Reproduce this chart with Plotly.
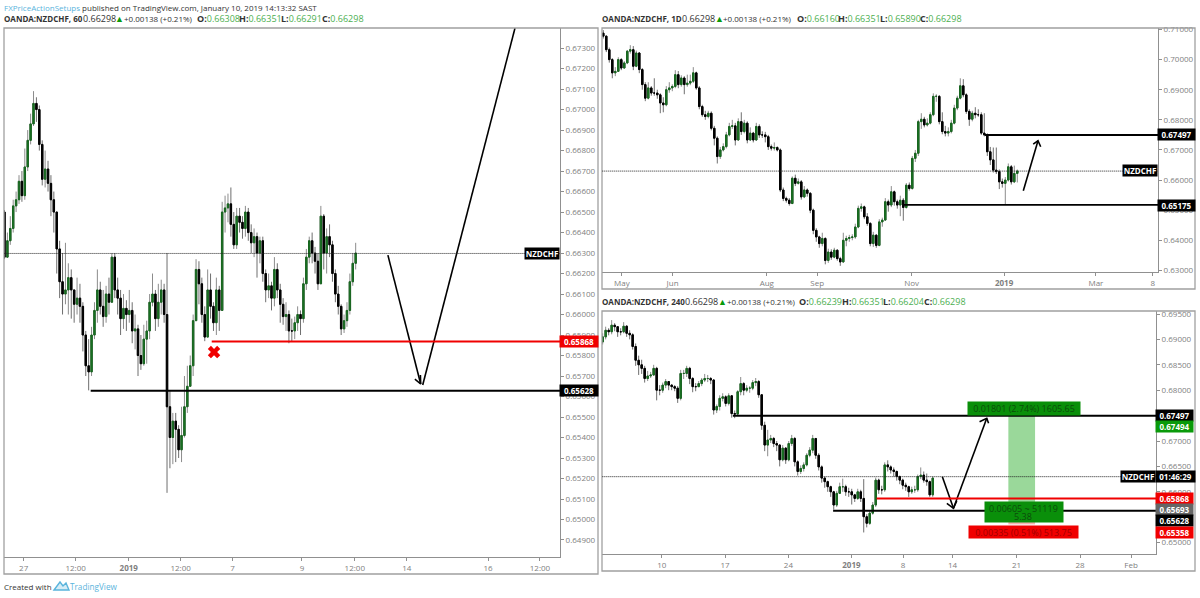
import plotly.graph_objects as go

W, H = 1200, 598

# 60 minute panel, prices
h1_first_open = 0.6650
h1_close = [.6628,.6636,.6642,.6653,.6656,.6665,.6658,.6672,.6685,.6693,.6703,.6700,.6683,.6666,.6671,.6664,.6656,.6650,.6632,.6616,
            .6610,.6612,.6618,.6612,.6605,.6608,.6604,.6590,.6575,.6572,.6590,.6602,.6612,.6604,.6599,.6610,.6606,.6628,.6612,.6608,
            .6598,.6603,.6600,.6602,.6592,.6593,.6580,.6576,.6588,.6592,.6606,.6610,.6598,.6606,.6612,.6600,.6555,.6540,.6548,.6544,
            .6534,.6541,.6555,.6565,.6575,.6597,.6622,.6615,.6600,.6589,.6612,.6604,.6596,.6612,.6602,.6650,.6652,.6654,.6644,.6634,
            .6648,.6645,.6642,.6650,.6640,.6635,.6638,.6630,.6636,.6620,.6612,.6614,.6608,.6622,.6612,.6605,.6599,.6600,.6592,.6592,
            .6596,.6600,.6598,.6615,.6628,.6636,.6630,.6626,.6615,.6648,.6630,.6638,.6634,.6620,.6610,.6604,.6593,.6597,.6602,.6616,
            .6625,.6630]
h1_high = [.6651,.6640,.6648,.6656,.6660,.6668,.6670,.6681,.6690,.6698,.6709,.6706,.6702,.6685,.6680,.6675,.6668,.6660,.6650,.6636,
           .6630,.6635,.6625,.6622,.6612,.6618,.6615,.6606,.6592,.6588,.6594,.6606,.6622,.6616,.6612,.6614,.6618,.6630,.6630,.6618,
           .6612,.6610,.6607,.6612,.6606,.6600,.6595,.6590,.6595,.6597,.6610,.6620,.6612,.6615,.6617,.6615,.6630,.6563,.6552,.6552,
           .6546,.6555,.6570,.6575,.6580,.6600,.6627,.6626,.6618,.6604,.6622,.6620,.6606,.6618,.6614,.6655,.6658,.6659,.6662,.6650,
           .6652,.6652,.6648,.6653,.6652,.6644,.6642,.6640,.6638,.6638,.6622,.6620,.6616,.6628,.6625,.6615,.6608,.6606,.6602,.6598,
           .6599,.6604,.6602,.6618,.6632,.6638,.6640,.6633,.6630,.6653,.6649,.6642,.6644,.6636,.6622,.6614,.6605,.6600,.6606,.6620,
           .6630,.6635]
h1_low = [.6627,.6628,.6634,.6640,.6650,.6654,.6655,.6656,.6670,.6683,.6692,.6694,.6680,.6663,.6662,.6660,.6648,.6640,.6620,.6608,
          .6600,.6605,.6600,.6598,.6596,.6600,.6596,.6582,.6570,.6563,.6570,.6588,.6596,.6600,.6594,.6596,.6600,.6612,.6608,.6600,
          .6590,.6593,.6592,.6596,.6586,.6583,.6570,.6573,.6575,.6576,.6588,.6604,.6592,.6594,.6600,.6596,.6513,.6525,.6527,.6528,
          .6530,.6528,.6540,.6552,.6570,.6570,.6605,.6605,.6596,.6587,.6589,.6598,.6592,.6590,.6592,.6603,.6640,.6645,.6638,.6632,
          .6632,.6640,.6637,.6638,.6636,.6630,.6628,.6618,.6625,.6616,.6606,.6608,.6602,.6604,.6608,.6596,.6595,.6592,.6586,.6587,
          .6588,.6592,.6590,.6596,.6612,.6625,.6625,.6620,.6612,.6615,.6622,.6620,.6628,.6616,.6606,.6600,.6590,.6591,.6594,.6600,
          .6614,.6622]
h1_ticks = [6.6, 24.5, 42.8, 60.7, 78.6, 102.5, 120.7, 138.6, 166.6, 184.5]
h1_ticktext = ["27", "12:00", "<b>2019</b>", "12:00", "7", "9", "12:00", "14", "16", "12:00"]
h1_yticks = [.673,.672,.671,.670,.669,.668,.667,.666,.665,.664,.663,.662,.661,.660,.659,.658,.657,.656,.655,.654,.653,.652,.651,.650,.649]

# daily panel
d1_first_open = 0.7088
d1_close = [.7078,.7033,.7000,.6956,.6961,.7000,.6972,.6989,.7028,.7033,.6978,.7022,.6967,.6917,.6872,.6906,.6889,.6889,.6883,.6856,
            .6850,.6900,.6906,.6911,.6950,.6917,.6939,.6917,.6922,.6928,.6956,.6906,.6844,.6817,.6811,.6822,.6772,.6739,.6678,.6700,
            .6711,.6750,.6778,.6780,.6733,.6794,.6761,.6789,.6733,.6756,.6733,.6778,.6750,.6750,.6744,.6711,.6706,.6708,.6700,.6567,
            .6539,.6533,.6522,.6606,.6589,.6594,.6544,.6567,.6556,.6500,.6433,.6411,.6389,.6406,.6333,.6361,.6344,.6367,.6339,.6328,
            .6400,.6406,.6409,.6411,.6444,.6506,.6511,.6478,.6456,.6389,.6417,.6383,.6461,.6467,.6528,.6517,.6561,.6528,.6517,.6533,
            .6509,.6583,.6572,.6672,.6689,.6794,.6802,.6783,.6789,.6817,.6878,.6878,.6794,.6761,.6756,.6761,.6789,.6839,.6872,.6913,
            .6883,.6828,.6802,.6822,.6817,.6817,.6756,.6750,.6694,.6667,.6633,.6628,.6594,.6589,.6600,.6644,.6594,.6622,.6630]
d1_high = [.7098,.7080,.7040,.7005,.6975,.7008,.7005,.6995,.7032,.7048,.7045,.7030,.7025,.6972,.6925,.6925,.6912,.6938,.6900,.6888,
           .6875,.6912,.6925,.6918,.6965,.6962,.6948,.6945,.6950,.6950,.6975,.6960,.6912,.6850,.6830,.6830,.6828,.6780,.6745,.6710,
           .6722,.6760,.6790,.6800,.6790,.6805,.6825,.6800,.6795,.6775,.6760,.6790,.6785,.6762,.6760,.6750,.6718,.6725,.6712,.6705,
           .6575,.6545,.6540,.6612,.6618,.6605,.6600,.6580,.6572,.6560,.6505,.6440,.6415,.6425,.6410,.6372,.6370,.6375,.6370,.6345,
           .6425,.6415,.6418,.6420,.6455,.6515,.6522,.6515,.6490,.6460,.6428,.6420,.6470,.6475,.6540,.6535,.6580,.6565,.6535,.6548,
           .6540,.6590,.6592,.6680,.6700,.6800,.6822,.6810,.6805,.6825,.6888,.6885,.6882,.6825,.6780,.6775,.6800,.6850,.6880,.6938,
           .6935,.6888,.6835,.6830,.6842,.6835,.6825,.6822,.6755,.6710,.6708,.6708,.6635,.6605,.6610,.6655,.6650,.6648,.6635]
d1_low = [.7070,.7025,.6990,.6938,.6945,.6960,.6965,.6970,.6985,.7020,.6965,.6975,.6955,.6900,.6862,.6868,.6880,.6880,.6870,.6822,
          .6825,.6845,.6890,.6895,.6905,.6905,.6910,.6885,.6910,.6915,.6922,.6900,.6835,.6810,.6800,.6805,.6765,.6715,.6655,.6670,
          .6695,.6705,.6745,.6770,.6715,.6730,.6750,.6755,.6722,.6730,.6725,.6730,.6740,.6740,.6725,.6700,.6698,.6698,.6695,.6560,
          .6530,.6525,.6515,.6520,.6580,.6585,.6535,.6540,.6545,.6490,.6420,.6395,.6375,.6380,.6320,.6325,.6335,.6340,.6332,.6315,
          .6325,.6380,.6395,.6400,.6405,.6440,.6495,.6470,.6448,.6380,.6378,.6375,.6380,.6445,.6465,.6495,.6510,.6515,.6505,.6480,
          .6465,.6505,.6565,.6568,.6660,.6680,.6770,.6775,.6778,.6785,.6812,.6860,.6785,.6752,.6745,.6745,.6755,.6785,.6832,.6868,
          .6875,.6820,.6780,.6795,.6805,.6810,.6750,.6745,.6680,.6650,.6625,.6620,.6570,.6575,.6517,.6595,.6585,.6590,.6592]
d1_ticks = [6.2, 23.1, 54.5, 71.3, 102.8, 133.6, 164.2, 183.2]
d1_ticktext = ["May", "Jun", "Aug", "Sep", "Nov", "<b>2019</b>", "Mar", "8"]
d1_yticks = [.71,.70,.69,.68,.67,.66,.65,.64,.63]

# 240 minute panel
h4_first_open = 0.6895
h4_close = [.6905,.6918,.6915,.6928,.6925,.6915,.6915,.6926,.6912,.6909,.6886,.6859,.6850,.6843,.6823,.6828,.6830,.6843,.6800,.6800,
            .6810,.6817,.6810,.6807,.6804,.6784,.6833,.6833,.6843,.6823,.6807,.6807,.6813,.6820,.6823,.6823,.6820,.6761,.6768,.6784,
            .6787,.6774,.6789,.6754,.6753,.6797,.6813,.6800,.6804,.6804,.6815,.6817,.6791,.6731,.6692,.6702,.6705,.6695,.6692,.6663,
            .6686,.6663,.6695,.6705,.6659,.6640,.6646,.6653,.6672,.6682,.6705,.6672,.6649,.6627,.6620,.6610,.6600,.6574,.6597,.6610,
            .6610,.6600,.6600,.6594,.6587,.6600,.6587,.6551,.6538,.6558,.6574,.6623,.6604,.6604,.6653,.6649,.6643,.6640,.6630,.6623,
            .6613,.6610,.6600,.6604,.6604,.6630,.6633,.6623,.6620,.6594,.6627]
h4_high = [.6912,.6925,.6922,.6938,.6932,.6926,.6922,.6934,.6928,.6918,.6912,.6892,.6868,.6860,.6848,.6838,.6836,.6850,.6846,.6810,
           .6815,.6822,.6818,.6812,.6810,.6808,.6840,.6840,.6848,.6846,.6826,.6814,.6818,.6824,.6832,.6830,.6826,.6822,.6772,.6790,
           .6794,.6790,.6794,.6790,.6760,.6800,.6826,.6816,.6810,.6808,.6820,.6824,.6820,.6792,.6738,.6722,.6712,.6708,.6700,.6694,
           .6692,.6688,.6700,.6712,.6708,.6662,.6652,.6658,.6676,.6688,.6712,.6706,.6676,.6652,.6630,.6622,.6612,.6602,.6602,.6618,
           .6626,.6614,.6608,.6606,.6596,.6606,.6604,.6625,.6556,.6564,.6580,.6628,.6626,.6612,.6658,.6662,.6652,.6648,.6642,.6632,
           .6626,.6618,.6612,.6610,.6612,.6634,.6648,.6640,.6636,.6622,.6630]
h4_low = [.6890,.6900,.6908,.6910,.6916,.6905,.6908,.6912,.6905,.6900,.6880,.6848,.6830,.6832,.6815,.6818,.6824,.6828,.6780,.6790,
          .6795,.6804,.6800,.6800,.6798,.6775,.6780,.6822,.6826,.6812,.6796,.6798,.6806,.6808,.6816,.6816,.6812,.6752,.6755,.6760,
          .6778,.6768,.6770,.6746,.6745,.6750,.6790,.6790,.6796,.6795,.6800,.6808,.6785,.6722,.6680,.6670,.6696,.6688,.6680,.6650,
          .6660,.6655,.6660,.6690,.6650,.6632,.6635,.6640,.6650,.6668,.6676,.6665,.6642,.6618,.6608,.6600,.6590,.6565,.6570,.6596,
          .6600,.6592,.6590,.6575,.6580,.6584,.6580,.6520,.6530,.6535,.6555,.6570,.6596,.6595,.6600,.6640,.6636,.6630,.6622,.6615,
          .6605,.6602,.6590,.6596,.6598,.6600,.6625,.6618,.6612,.6590,.6590]
h4_ticks = [19.7, 40.8, 61.9, 82.9, 100.1, 116.6, 137.9, 159.1, 176.1]
h4_ticktext = ["10", "17", "24", "<b>2019</b>", "8", "14", "21", "28", "Feb"]
h4_yticks = [.695,.690,.685,.680,.675,.670,.665,.660,.655,.650]

last_price = 0.66298


def px(x):
    return x / W


def py(y):
    return 1 - y / H


fig = go.Figure()


def add_candles(first_open, close, high, low, xa, ya):
    opens = [first_open] + close[:-1]
    xs = list(range(len(close)))
    # grey wicks underneath, solid bodies on top
    fig.add_trace(go.Candlestick(
        x=xs, open=opens, high=high, low=low, close=close, xaxis=xa, yaxis=ya,
        increasing=dict(line=dict(color="#8c8c8c", width=1), fillcolor="#8c8c8c"),
        decreasing=dict(line=dict(color="#6e6e6e", width=1), fillcolor="#6e6e6e"),
        whiskerwidth=0, hoverinfo="skip", showlegend=False))
    fig.add_trace(go.Candlestick(
        x=xs, open=opens, close=close,
        high=[max(a, b) for a, b in zip(opens, close)],
        low=[min(a, b) for a, b in zip(opens, close)],
        xaxis=xa, yaxis=ya,
        increasing=dict(line=dict(color="#17651f", width=1), fillcolor="#1c7a26"),
        decreasing=dict(line=dict(color="#000000", width=1), fillcolor="#000000"),
        whiskerwidth=0, hoverinfo="skip", showlegend=False))


add_candles(h1_first_open, h1_close, h1_high, h1_low, "x", "y")
add_candles(d1_first_open, d1_close, d1_high, d1_low, "x2", "y2")
add_candles(h4_first_open, h4_close, h4_high, h4_low, "x3", "y3")

# hand drawn arrows, in bar index / price
arrows = [
    ("x", "y", [132.1, 143.4], [.66290, .65661]),
    ("x", "y", [141.4, 143.4, 143.3], [.65685, .65661, .65705]),
    ("x", "y", [144.1, 175.9], [.65656, .67398]),
    ("x2", "y2", [140, 144.9], [.65645, .67305]),
    ("x2", "y2", [143.3, 144.9, 145.8], [.67195, .67305, .67106]),
    ("x3", "y3", [113.2, 116.9], [.66297, .65675]),
    ("x3", "y3", [114.7, 116.9, 118], [.65774, .65675, .65819]),
    ("x3", "y3", [116.9, 128], [.65675, .67447]),
    ("x3", "y3", [125.6, 128, 128.6], [.6738, .67447, .67348]),
]
for xa, ya, ax, ay in arrows:
    fig.add_trace(go.Scatter(x=ax, y=ay, xaxis=xa, yaxis=ya, mode="lines", hoverinfo="skip",
                             line=dict(color="#000000", width=1.6), showlegend=False))

# red cross under the failed level
fig.add_trace(go.Scatter(x=[72.2], y=[.65817], xaxis="x", yaxis="y", mode="markers", hoverinfo="skip",
                         marker=dict(symbol="x", color="#f00000", size=11, line=dict(width=0)), showlegend=False))

axis_font = dict(family="Open Sans", size=8, color="#808080")
panels = [
    ("", (4, 560), (28, 557), (-0.17, 191.4), (.64817, .67398), h1_ticks, h1_ticktext, h1_yticks),
    ("2", (602, 1158), (28, 272), (-0.43, 184.9), (.62946, .7105), d1_ticks, d1_ticktext, d1_yticks),
    ("3", (602, 1156), (311, 554), (-0.22, 184.4), (.64776, .69559), h4_ticks, h4_ticktext, h4_yticks),
]
layout_axes = {}
for n, xd, yd, xr, yr, xt, xl, yt in panels:
    layout_axes["xaxis" + n] = dict(
        domain=[px(xd[0]), px(xd[1])], range=list(xr), anchor="y" + n, showgrid=False, zeroline=False,
        tickvals=xt, ticktext=xl, ticks="outside", ticklen=3, tickcolor="#909090", tickfont=axis_font,
        showline=True, linecolor="#909090", rangeslider=dict(visible=False), fixedrange=True)
    layout_axes["yaxis" + n] = dict(
        domain=[py(yd[1]), py(yd[0])], range=list(yr), anchor="x" + n, side="right", showgrid=False, zeroline=False,
        tickvals=yt, tickformat=".5f", ticks="outside", ticklen=3, tickcolor="#909090", tickfont=axis_font,
        showline=True, linecolor="#909090", fixedrange=True)

shapes = []
# outer frames of the three panels
for x0, y0, x1, y1 in [(4, 28, 598, 574), (602, 28, 1195, 289), (602, 311, 1195, 571)]:
    shapes.append(dict(type="rect", xref="paper", yref="paper", x0=px(x0), x1=px(x1), y0=py(y0), y1=py(y1),
                       line=dict(color="#a0a0a0", width=1.3)))


def hline(xa, ya, start, price, color, width, dash="solid"):
    shapes.append(dict(type="line", xref=xa, yref=ya, x0=start, x1=200, y0=price, y1=price,
                       line=dict(color=color, width=width, dash=dash)))


hline("x", "y", -1, last_price, "#222222", 1, "1px,1px")
hline("x2", "y2", -1, last_price, "#222222", 1, "1px,1px")
hline("x3", "y3", -1, last_price, "#222222", 1, "1px,1px")
hline("x", "y", 71.4, .65868, "#f00000", 2)
hline("x", "y", 29.7, .65628, "#000000", 2)
hline("x2", "y2", 127.2, .67497, "#000000", 2)
hline("x2", "y2", 99.9, .65175, "#000000", 1.6)
hline("x3", "y3", 43.4, .67497, "#000000", 2)
hline("x3", "y3", 91.3, .65868, "#f00000", 2)
hline("x3", "y3", 76.8, .65628, "#000000", 2)

# long position box, below the lines
shapes.append(dict(type="rect", xref="x3", yref="y3", x0=135.2, x1=144.1, y0=.65693, y1=.67494,
                   fillcolor="#9ad89a", line=dict(width=0), layer="below"))
shapes.append(dict(type="rect", xref="x3", yref="y3", x0=135.2, x1=144.1, y0=.65358, y1=.65693,
                   fillcolor="#f7b4b4", line=dict(width=0), layer="below"))

# logo next to the credit line
shapes.append(dict(type="path", xref="paper", yref="paper", line=dict(color="#5ab4dc", width=1.4),
                   fillcolor="rgba(90,180,220,0.25)",
                   path="M %f %f L %f %f L %f %f L %f %f L %f %f L %f %f Z" % (
                       px(54), py(590), px(60), py(582), px(63), py(586), px(66), py(583), px(69), py(590), px(60), py(590))))

green = "#4caf50"
dark = "#333333"

annotations = []


def text(x, y, s, size=8, color=dark, anchor="left"):
    annotations.append(dict(xref="paper", yref="paper", x=px(x), y=py(y), text=s, showarrow=False,
                            xanchor=anchor, yanchor="middle", align="left", borderpad=0, xshift=-1,
                            font=dict(family="Open Sans", size=size, color=color)))


def header(x, y, label, slots, name_x, vals):
    text(x, y, f'<b>OANDA:NZDCHF, {label}</b>')
    text(x + slots[0], y, "0.66298", size=9)
    text(x + slots[1], y, "▲", size=9, color="#0a9a0a")
    text(x + slots[2], y, "+0.00138 (+0.21%)")
    for nm, nx, val in zip("OHLC", name_x, vals):
        text(x + nx, y, f'<b>{nm}:</b><span style="color:{green}">{val}</span>', size=9)


def tag(x0, x1, y, s, bg, color="#ffffff", h=11, bold=True, size=8):
    annotations.append(dict(xref="paper", yref="paper", x=px((x0 + x1) / 2), y=py(y), xanchor="center",
                            yanchor="middle", showarrow=False, width=x1 - x0, height=h, bgcolor=bg, borderpad=0,
                            text=f"<b>{s}</b>" if bold else s,
                            font=dict(family="Open Sans", size=size, color=color)))


text(4, 8, '<span style="color:#5ab4dc">FXPriceActionSetups</span> published on TradingView.com, January 10, 2019 14:13:32 SAST')
header(4, 19, "60", (79, 111, 120), (193, 235, 277, 318), ("0.66308", "0.66351", "0.66291", "0.66298"))
header(602, 19, "1D", (80, 113, 121), (195, 236, 278, 318), ("0.66160", "0.66351", "0.65890", "0.66298"))
header(602, 301, "240", (83, 116, 125), (197, 240, 281, 322), ("0.66239", "0.66351", "0.66204", "0.66298"))
text(4, 586, "Created with")
text(70, 586, "TradingView", color="#5ab4dc", size=8.2)

# price labels on the left panel
tag(525, 559, 253, "NZDCHF", "#000000")
tag(560, 598, 341, "0.65868", "#f00000")
tag(560, 598, 390.5, "0.65628", "#000000")

# daily
tag(1123, 1157, 171, "NZDCHF", "#000000")
tag(1158, 1195, 135, "0.67497", "#000000")
tag(1158, 1195, 205, "0.65175", "#000000")

# 240
tag(1121, 1155, 476.5, "NZDCHF", "#000000")
tag(1156, 1195, 476.5, "01:46:29", "#000000")
tag(1156, 1193, 415, "0.67497", "#000000")
tag(1156, 1193, 426, "0.67494", "#0a9a0a")
tag(1156, 1193, 498, "0.65868", "#f00000")
tag(1156, 1193, 509, "0.65693", "#666666")
tag(1156, 1193, 520, "0.65628", "#000000")
tag(1156, 1193, 532, "0.65358", "#f00000")

# position labels
tag(968, 1080, 408, "0.01801 (2.74%) 1605.65", "#0a8f0a", "#0a4d0a", h=13, bold=False, size=9)
tag(985, 1063, 512, "&nbsp;", "#0a8f0a", "#0a4d0a", h=20, bold=False)
text(1024, 508, "0.00605 ~ 51119", size=9, color="#0a4d0a", anchor="center")
text(1024, 516, "5.38", size=9, color="#0a4d0a", anchor="center")
tag(969, 1078, 532, "0.00335 (0.51%) 513.75", "#f00000", "#a00000", h=12, bold=False, size=9)

fig.update_layout(
    width=W, height=H, margin=dict(l=0, r=0, t=0, b=0, autoexpand=False), paper_bgcolor="#ffffff", plot_bgcolor="#ffffff",
    showlegend=False, shapes=shapes, annotations=annotations, **layout_axes)

fig.write_html("out.html", post_script="document.body.style.margin='0';", config=dict(displayModeBar=False))
